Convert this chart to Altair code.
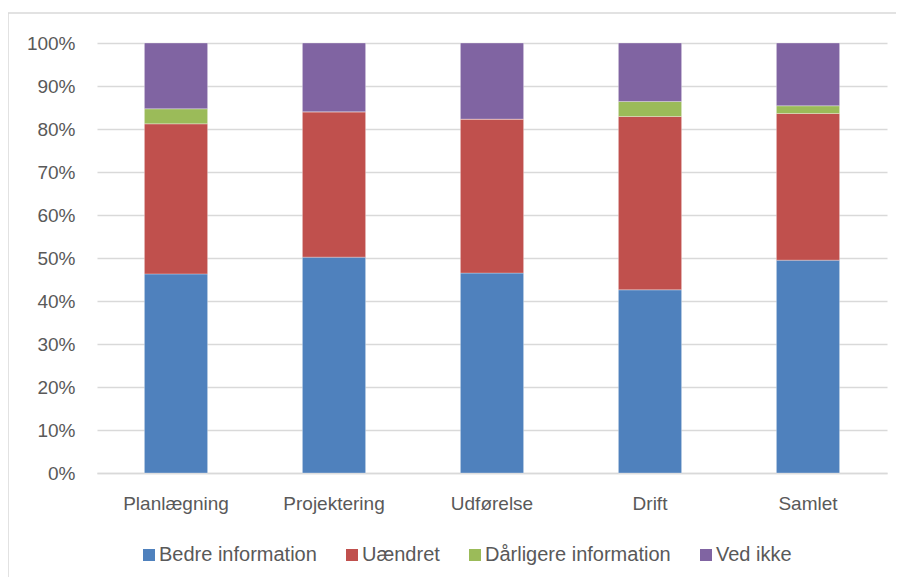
import altair as alt
import pandas as pd

categories = ["Planlægning", "Projektering", "Udførelse", "Drift", "Samlet"]
series = ["Bedre information", "Uændret", "Dårligere information", "Ved ikke"]
bedre = [46.3, 50.2, 46.5, 42.6, 49.5]
uaendret = [34.9, 33.8, 35.8, 40.3, 34.1]
daarligere = [3.5, 0.0, 0.0, 3.5, 1.8]
ved_ikke = [15.3, 16.0, 17.7, 13.6, 14.6]
colors = ["#4f81bd", "#c0504d", "#9bbb59", "#8064a2"]

rows = []
for i, c in enumerate(categories):
    for j, (s, vals) in enumerate(zip(series, [bedre, uaendret, daarligere, ved_ikke])):
        rows.append({"kategori": c, "serie": s, "værdi": vals[i] / 100.0, "orden": j})
df = pd.DataFrame(rows)

font = "Liberation Sans"
txt = "#595959"
fs = 19

bars = alt.Chart(df).mark_bar(stroke="#ffffff", strokeWidth=0.6, strokeOpacity=0.5).encode(
    x=alt.X("kategori:N", sort=categories,
            scale=alt.Scale(paddingInner=0.6, paddingOuter=0.3),
            axis=alt.Axis(title=None, labelAngle=0, labelFont=font, labelFontSize=fs,
                          labelColor=txt, labelPadding=21, ticks=False,
                          domainColor="#d9d9d9", domainWidth=1.5)),
    y=alt.Y("værdi:Q", stack="zero",
            scale=alt.Scale(domain=[0, 1], nice=False),
            axis=alt.Axis(title=None, format=".0%", values=[i / 10 for i in range(11)],
                          labelFont=font, labelFontSize=fs, labelColor=txt,
                          labelPadding=22, ticks=False, domain=False,
                          gridColor="#d9d9d9", gridWidth=1.5)),
    color=alt.Color("serie:N", sort=series,
                    scale=alt.Scale(domain=series, range=colors),
                    legend=alt.Legend(title=None, orient="none", direction="horizontal",
                                      legendX=42, legendY=502, symbolType="square",
                                      symbolSize=144, symbolStrokeWidth=0,
                                      labelFont=font, labelFontSize=20, labelColor=txt,
                                      labelLimit=0, columnPadding=25, symbolOffset=0,
                                      labelOffset=0)),
    order=alt.Order("orden:Q", sort="ascending"),
)

frame = alt.Chart(pd.DataFrame({"a": [0]})).mark_rect(
    fill=None, stroke="#d9d9d9", strokeWidth=1.5
).encode(x=alt.value(-89), x2=alt.value(900), y=alt.value(-30), y2=alt.value(600))

chart = alt.layer(frame, bars).properties(
    width=790, height=430,
    autosize=alt.AutoSizeParams(type="none"),
    padding={"left": 89, "top": 35, "right": 9, "bottom": 104},
).configure(background="#ffffff").configure_view(stroke=None)

chart.save("out.html", embed_options={"renderer": "svg", "actions": False})
